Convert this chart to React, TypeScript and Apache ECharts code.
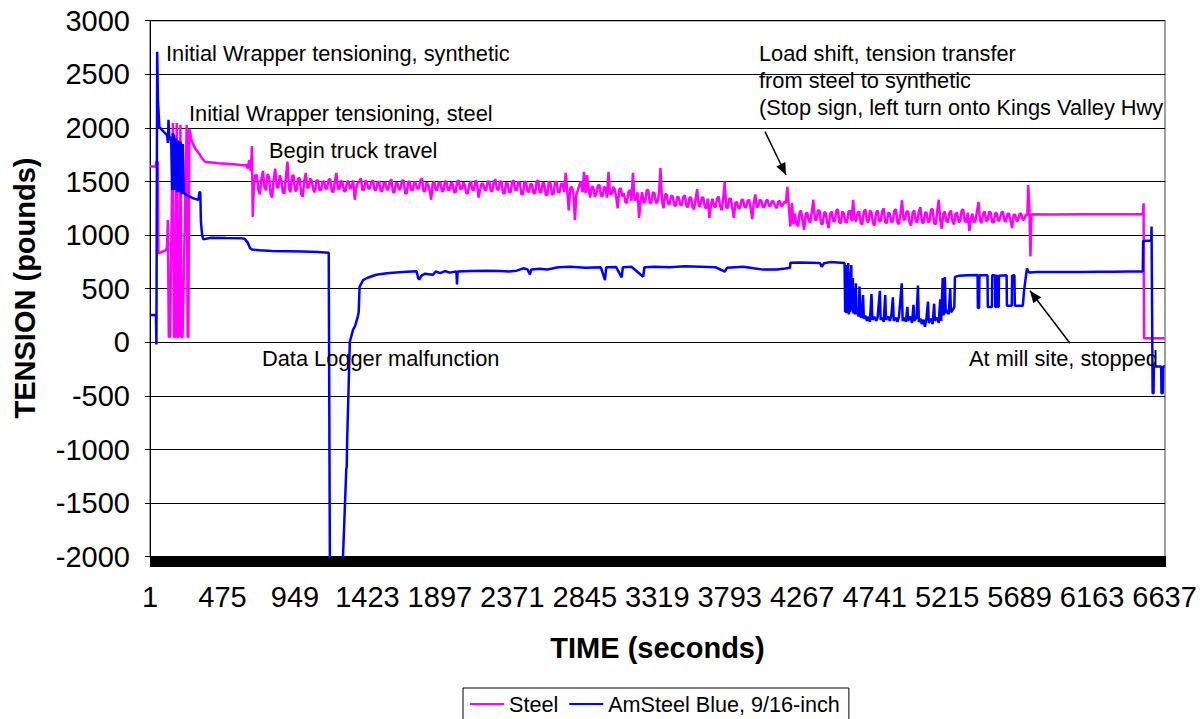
import React, { useEffect, useRef } from "react";
import * as echarts from "echarts";

const FONT = "'Liberation Sans', Arial, Helvetica, sans-serif";

// Time axis: one category per second, labels every 474 s starting at 1
const TOTAL_SECONDS = 6640;
const LABEL_STEP = 474;
const categories: string[] = Array.from({ length: TOTAL_SECONDS }, (_, i) => String(i + 1));

const Y_MIN = -2000;
const Y_MAX = 3000;
const Y_STEP = 500;

const SERIES_NAMES = ["Steel", "AmSteel Blue, 9/16-inch"];

// ---------- Steel (time in s, tension in lb) ----------
const steelHead: [number, number][] = [
  [1, 1640], [38, 1640], [42, 1685], [52, 1685], [56, 830], [105, 860], [112, 890], [118, 1140],
  [124, 50], [132, 50], [151, 2045], [158, 50], [166, 50], [176, 2045], [182, 50], [190, 50],
  [200, 2030], [206, 50], [214, 50], [241, 2030], [247, 50], [252, 50], [258, 1990], [263, 1965],
  [270, 1900], [280, 1856], [300, 1800], [320, 1765], [340, 1720], [360, 1685], [450, 1670],
  [550, 1660], [622, 1650], [630, 1660], [640, 1620], [650, 1700], [660, 1600], [668, 1830],
  [673, 1170], [680, 1450], [690, 1560],
];
// read every 10 s from 700 s to 4160 s
const steelNoiseStep = 10;
const steelNoiseAStart = 700;
const steelNoiseA: number[] = [
  1560, 1420, 1380, 1530, 1600, 1440, 1420, 1570, 1540, 1380, 1350, 1520, 1620, 1450, 1440, 1560, 1510, 1400, 1390, 1540,
  1685, 1430, 1400, 1550, 1560, 1410, 1420, 1530, 1530, 1380, 1360, 1510, 1580, 1440, 1450, 1530, 1500, 1420, 1400, 1510,
  1510, 1420, 1420, 1500, 1500, 1430, 1440, 1520, 1520, 1410, 1400, 1500, 1580, 1430, 1430, 1510, 1490, 1410, 1410, 1500,
  1500, 1430, 1450, 1510, 1330, 1440, 1480, 1500, 1530, 1420, 1420, 1510, 1490, 1430, 1440, 1500, 1510, 1420, 1420, 1490,
  1500, 1410, 1410, 1490, 1490, 1420, 1430, 1500, 1520, 1400, 1400, 1490, 1480, 1420, 1440, 1510, 1510, 1390, 1390, 1500,
  1495, 1420, 1420, 1500, 1480, 1430, 1440, 1510, 1530, 1410, 1410, 1490, 1470, 1420, 1330, 1480, 1500, 1420, 1420, 1490,
  1490, 1410, 1410, 1500, 1500, 1420, 1420, 1490, 1480, 1400, 1400, 1500, 1510, 1430, 1430, 1490, 1470, 1390, 1390, 1480,
  1500, 1420, 1420, 1510, 1490, 1350, 1420, 1480, 1480, 1420, 1420, 1500, 1500, 1410, 1410, 1500, 1520, 1430, 1420, 1500,
  1500, 1390, 1390, 1490, 1480, 1400, 1400, 1500, 1510, 1420, 1420, 1500, 1490, 1380, 1380, 1490, 1500, 1410, 1400, 1480,
  1470, 1390, 1390, 1500, 1510, 1400, 1400, 1490, 1480, 1370, 1380, 1500, 1490, 1380, 1380, 1490, 1500, 1400, 1400, 1480,
  1480, 1400, 1580, 1420, 1230, 1440, 1450, 1400, 1140, 1380, 1420, 1470, 1500, 1400, 1590, 1390, 1560, 1420, 1350, 1450,
  1450, 1360, 1380, 1460, 1470, 1370, 1360, 1450, 1440, 1350, 1590, 1380, 1380, 1450, 1430, 1360, 1250, 1420, 1440, 1360,
  1390, 1310, 1300, 1400, 1420, 1320, 1580, 1330, 1330, 1400, 1160, 1320, 1400, 1300, 1310, 1420, 1420, 1300, 1300, 1400,
  1390, 1300, 1310, 1380, 1625, 1320, 1250, 1380, 1380, 1290, 1290, 1370, 1360, 1280, 1270, 1360, 1350, 1280, 1280, 1360,
  1370, 1270, 1260, 1350, 1350, 1260, 1240, 1340, 1430, 1270, 1270, 1350, 1350, 1260, 1250, 1340, 1160, 1280, 1340, 1270,
  1260, 1340, 1360, 1270, 1230, 1330, 1500, 1260, 1250, 1340, 1340, 1250, 1160, 1300, 1310, 1250, 1250, 1330, 1330, 1260,
  1260, 1320, 1330, 1250, 1150, 1300, 1380, 1260, 1270, 1330, 1320, 1260, 1260, 1320, 1330, 1270, 1280, 1320, 1310, 1270,
  1250, 1310, 1320, 1270, 1280, 1310, 1300,
];
const steelShift: [number, number][] = [
  [4170, 1450], [4180, 1250], [4190, 1080], [4200, 1300], [4210, 1100],
];
// read every 10 s from 4220 s to 5740 s
const steelNoiseBStart = 4220;
const steelNoiseB: number[] = [
  1200, 1110, 1080, 1210, 1230, 1120, 1050, 1200, 1210, 1130, 1120, 1220, 1330, 1140, 1140, 1230, 1230, 1110, 1100, 1210,
  1210, 1120, 1066, 1200, 1220, 1130, 1130, 1230, 1240, 1120, 1110, 1220, 1200, 1120, 1120, 1220, 1230, 1130, 1330, 1150,
  1130, 1210, 1220, 1110, 1100, 1220, 1240, 1130, 1120, 1230, 1210, 1110, 1090, 1210, 1230, 1130, 1130, 1220, 1250, 1120,
  1110, 1210, 1200, 1120, 1130, 1230, 1240, 1120, 1100, 1200, 1325, 1140, 1150, 1220, 1220, 1110, 1090, 1210, 1230, 1130,
  1120, 1220, 1260, 1120, 1110, 1210, 1210, 1120, 1130, 1240, 1240, 1110, 1100, 1220, 1330, 1140, 1060, 1200, 1220, 1130,
  1120, 1210, 1230, 1130, 1100, 1200, 1210, 1120, 1130, 1230, 1240, 1130, 1120, 1210, 1040, 1150, 1200, 1120, 1130, 1220,
  1310, 1140, 1110, 1200, 1220, 1130, 1140, 1220, 1210, 1120, 1120, 1210, 1200, 1130, 1150, 1210, 1220, 1130, 1130, 1200,
  1200, 1130, 1066, 1190, 1190, 1130, 1140, 1200, 1200, 1140, 1150, 1190, 1190,
];
const steelTail: [number, number][] = [
  [5745, 1467], [5752, 1300], [5760, 800], [5767, 1194], [5900, 1192], [6100, 1194], [6300, 1195],
  [6495, 1195], [6500, 1297], [6503, 38], [6639, 38],
];

// ---------- AmSteel Blue ----------
const blueHead: [number, number][] = [
  [1, 255], [40, 255], [43, -20], [48, 2710], [53, 2260], [57, 2150], [62, 2010], [80, 1980], [100, 1950],
  [113, 1930], [118, 1860], [122, 2075], [126, 1930], [135, 1900], [140, 1860], [146, 1420], [150, 1950],
  [158, 1920], [162, 1420], [168, 1900], [174, 1880], [178, 1400], [184, 1880], [190, 1860], [194, 1400],
  [200, 1870], [206, 1840], [210, 1380], [216, 1850], [222, 1400], [232, 1380], [260, 1360], [290, 1340],
  [318, 1330], [324, 1400], [330, 1400], [334, 1125], [342, 1000], [350, 960], [400, 975], [500, 972],
  [600, 970], [620, 965], [640, 930], [655, 880], [668, 865], [720, 858], [800, 852], [900, 850],
  [1000, 848], [1100, 843], [1170, 835], [1180, -3000], [1250, -3000], [1258, -2200], [1285, -1180],
  [1288, -1160], [1290, -950], [1308, 5], [1330, 120], [1342, 150], [1360, 240], [1366, 280], [1372, 520],
  [1395, 580], [1420, 600], [1480, 630], [1551, 645], [1650, 655], [1745, 662], [1755, 600], [1762, 585],
  [1775, 620], [1800, 640], [1850, 630], [1870, 660], [1900, 645], [1930, 665], [1960, 650], [2005, 660],
  [2009, 540], [2013, 660], [2100, 665], [2200, 668],
];
const blueSteady: [number, number][] = [
  [2290, 665], [2350, 660], [2400, 668], [2442, 690], [2470, 680], [2486, 632], [2495, 680], [2550, 685],
  [2600, 680], [2671, 700], [2750, 705], [2850, 695], [2950, 700], [2977, 580], [2985, 700], [3050, 702],
  [3086, 605], [3094, 700], [3150, 705], [3227, 612], [3235, 700], [3300, 705], [3400, 700], [3500, 710],
  [3600, 705], [3700, 700], [3761, 660], [3775, 695], [3881, 705], [3950, 690], [4012, 678], [4100, 680],
  [4143, 685], [4187, 695], [4190, 743], [4250, 745], [4383, 740], [4394, 705], [4410, 738], [4450, 748],
  [4544, 740],
];
const blueUnsettled: [number, number][] = [
  [4546, 740], [4548, 280], [4552, 720], [4556, 270], [4560, 700], [4564, 300], [4568, 740], [4572, 260],
  [4578, 650], [4582, 280], [4588, 720], [4592, 300], [4598, 600], [4602, 270], [4608, 500], [4612, 260],
  [4618, 550], [4622, 260], [4630, 300], [4636, 240], [4642, 520], [4646, 250], [4655, 230],
  [4665, 440], [4670, 220], [4680, 250], [4690, 200], [4700, 240], [4710, 190], [4720, 450], [4726, 210],
  [4740, 240], [4750, 200], [4760, 230], [4775, 480], [4780, 210], [4790, 230], [4800, 190], [4810, 440],
  [4815, 210], [4830, 240], [4840, 200], [4850, 250], [4860, 420], [4866, 200], [4880, 230], [4890, 190],
  [4900, 240], [4918, 550], [4924, 200], [4935, 230], [4945, 190], [4955, 330], [4960, 200], [4975, 240],
  [4985, 180], [4995, 350], [5000, 200], [5015, 230], [5024, 530], [5030, 190], [5040, 220], [5050, 170],
  [5060, 210], [5070, 145], [5080, 230], [5090, 380], [5095, 180], [5110, 220], [5120, 170], [5130, 360],
  [5135, 200], [5150, 230], [5160, 180], [5170, 400], [5176, 200], [5186, 600], [5192, 250],
  [5200, 610], [5206, 270], [5215, 300], [5225, 260], [5235, 500], [5240, 280], [5255, 310], [5262, 330],
  [5266, 610], [5290, 620], [5350, 625], [5414, 628], [5416, 320], [5424, 320], [5426, 625], [5479, 625],
  [5481, 330], [5508, 330], [5510, 625], [5528, 625], [5530, 330], [5536, 330], [5538, 620], [5545, 622],
  [5547, 330], [5552, 330], [5554, 620], [5604, 625], [5606, 340], [5638, 340], [5640, 620], [5655, 625],
  [5658, 340], [5710, 340], [5718, 480], [5737, 690],
];
const blueTail: [number, number][] = [
  [5745, 660], [5755, 650], [5800, 655], [5900, 655], [6000, 656], [6100, 655], [6200, 657], [6300, 658],
  [6400, 660], [6495, 660], [6497, 945], [6550, 950], [6552, 1080], [6556, 1080], [6559, -475],
  [6565, -475], [6567, -225], [6615, -225], [6617, -475], [6625, -475], [6627, -225], [6639, -225],
];

// Annotation texts
const notes = [
  { text: "Initial Wrapper tensioning, synthetic", x: 166, y: 53 },
  { text: "Initial Wrapper tensioning, steel", x: 189, y: 113 },
  { text: "Begin truck travel", x: 269, y: 150.5 },
  { text: "Data Logger malfunction", x: 262, y: 358 },
  { text: "Load shift, tension transfer", x: 759, y: 53.5 },
  { text: "from steel to synthetic", x: 759, y: 80.5 },
  { text: "(Stop sign, left turn onto Kings Valley Hwy", x: 759, y: 107.5 },
  { text: "At mill site, stopped", x: 969, y: 358 },
];

function sampled(start: number, step: number, values: number[]): [number, number][] {
  return values.map((v, i) => [start + i * step, v]);
}

function toIndex(points: [number, number][]): [number, number][] {
  return points.map(([t, v]) => [t - 1, v]);
}

function arrowHead(x1: number, y1: number, x2: number, y2: number, len = 12, half = 5) {
  const dx = x2 - x1;
  const dy = y2 - y1;
  const L = Math.hypot(dx, dy);
  const ux = dx / L;
  const uy = dy / L;
  const bx = x2 - ux * len;
  const by = y2 - uy * len;
  const px = -uy * half;
  const py = ux * half;
  return [
    [x2, y2],
    [bx + px, by + py],
    [bx - px, by - py],
  ];
}

export default function App() {
  const ref = useRef<HTMLDivElement>(null);

  useEffect(() => {
    document.body.style.margin = "0";
    if (!ref.current) return;
    const chart = echarts.init(ref.current, undefined, { renderer: "svg" });

    const steelData = toIndex([
      ...steelHead,
      ...sampled(steelNoiseAStart, steelNoiseStep, steelNoiseA),
      ...steelShift,
      ...sampled(steelNoiseBStart, steelNoiseStep, steelNoiseB),
      ...steelTail,
    ]);
    const blueData = toIndex([...blueHead, ...blueSteady, ...blueUnsettled, ...blueTail]);

    const a1 = { x1: 765, y1: 131.7, x2: 786, y2: 175 };
    const a2 = { x1: 1070, y1: 343.3, x2: 1030, y2: 290.7 };

    const graphic: any[] = notes.map((n) => ({
      type: "text",
      x: n.x,
      y: n.y,
      z: 100,
      style: {
        text: n.text,
        fontSize: 21.8,
        fontFamily: FONT,
        fill: "#000",
        align: "left",
        verticalAlign: "middle",
      },
    }));
    [a1, a2].forEach((a) => {
      graphic.push({
        type: "line",
        z: 100,
        shape: { x1: a.x1, y1: a.y1, x2: a.x2, y2: a.y2 },
        style: { stroke: "#000", lineWidth: 1.5 },
      });
      graphic.push({
        type: "polygon",
        z: 100,
        shape: { points: arrowHead(a.x1, a.y1, a.x2, a.y2) },
        style: { fill: "#000" },
      });
    });
    graphic.push({
      type: "text",
      x: 25,
      y: 288,
      rotation: Math.PI / 2,
      style: {
        text: "TENSION (pounds)",
        fontSize: 29,
        fontWeight: "bold",
        fontFamily: FONT,
        fill: "#000",
        align: "center",
        verticalAlign: "middle",
      },
    });
    graphic.push({
      type: "text",
      x: 657.5,
      y: 648,
      style: {
        text: "TIME (seconds)",
        fontSize: 29,
        fontWeight: "bold",
        fontFamily: FONT,
        fill: "#000",
        align: "center",
        verticalAlign: "middle",
      },
    });

    chart.setOption({
      animation: false,
      backgroundColor: "#ffffff",
      grid: {
        left: 150,
        right: 38,
        top: 20.7,
        bottom: 162.3,
        show: true,
        borderColor: "#808080",
        borderWidth: 1.5,
        backgroundColor: "transparent",
      },
      xAxis: {
        type: "category",
        data: categories,
        boundaryGap: false,
        axisLine: { show: true, onZero: false, lineStyle: { color: "#000", width: 1 } },
        axisTick: { show: true, interval: 0, length: 10, lineStyle: { color: "#000", width: 1 } },
        axisLabel: {
          interval: LABEL_STEP - 1,
          fontSize: 29,
          color: "#000",
          fontFamily: FONT,
          margin: 26,
        },
        splitLine: { show: false },
      },
      yAxis: {
        type: "value",
        min: Y_MIN,
        max: Y_MAX,
        interval: Y_STEP,
        axisLine: { show: true, lineStyle: { color: "#000", width: 1 } },
        axisTick: { show: true, length: 5, lineStyle: { color: "#000" } },
        axisLabel: {
          fontSize: 29,
          color: "#000",
          fontFamily: FONT,
          margin: 20,
          formatter: (v: number) => String(v),
        },
        splitLine: { show: true, lineStyle: { color: "#000", width: 1 } },
      },
      legend: {
        data: SERIES_NAMES,
        left: 463,
        top: 688,
        orient: "horizontal",
        icon: "rect",
        itemWidth: 34,
        itemHeight: 2,
        itemGap: 11,
        borderColor: "#000",
        borderWidth: 1,
        padding: [5, 9, 20, 7],
        textStyle: { fontSize: 21.6, color: "#000", fontFamily: FONT },
      },
      graphic,
      series: [
        {
          name: SERIES_NAMES[0],
          type: "line",
          data: steelData,
          symbol: "none",
          clip: true,
          lineStyle: { color: "#FF00FF", width: 2.5 },
          itemStyle: { color: "#FF00FF" },
          z: 2,
        },
        {
          name: SERIES_NAMES[1],
          type: "line",
          data: blueData,
          symbol: "none",
          clip: true,
          lineStyle: { color: "#0000FF", width: 2.5 },
          itemStyle: { color: "#0000FF" },
          z: 3,
        },
      ],
    });

    return () => {
      chart.dispose();
    };
  }, []);

  return <div ref={ref} style={{ width: 1203, height: 719 }} />;
}
